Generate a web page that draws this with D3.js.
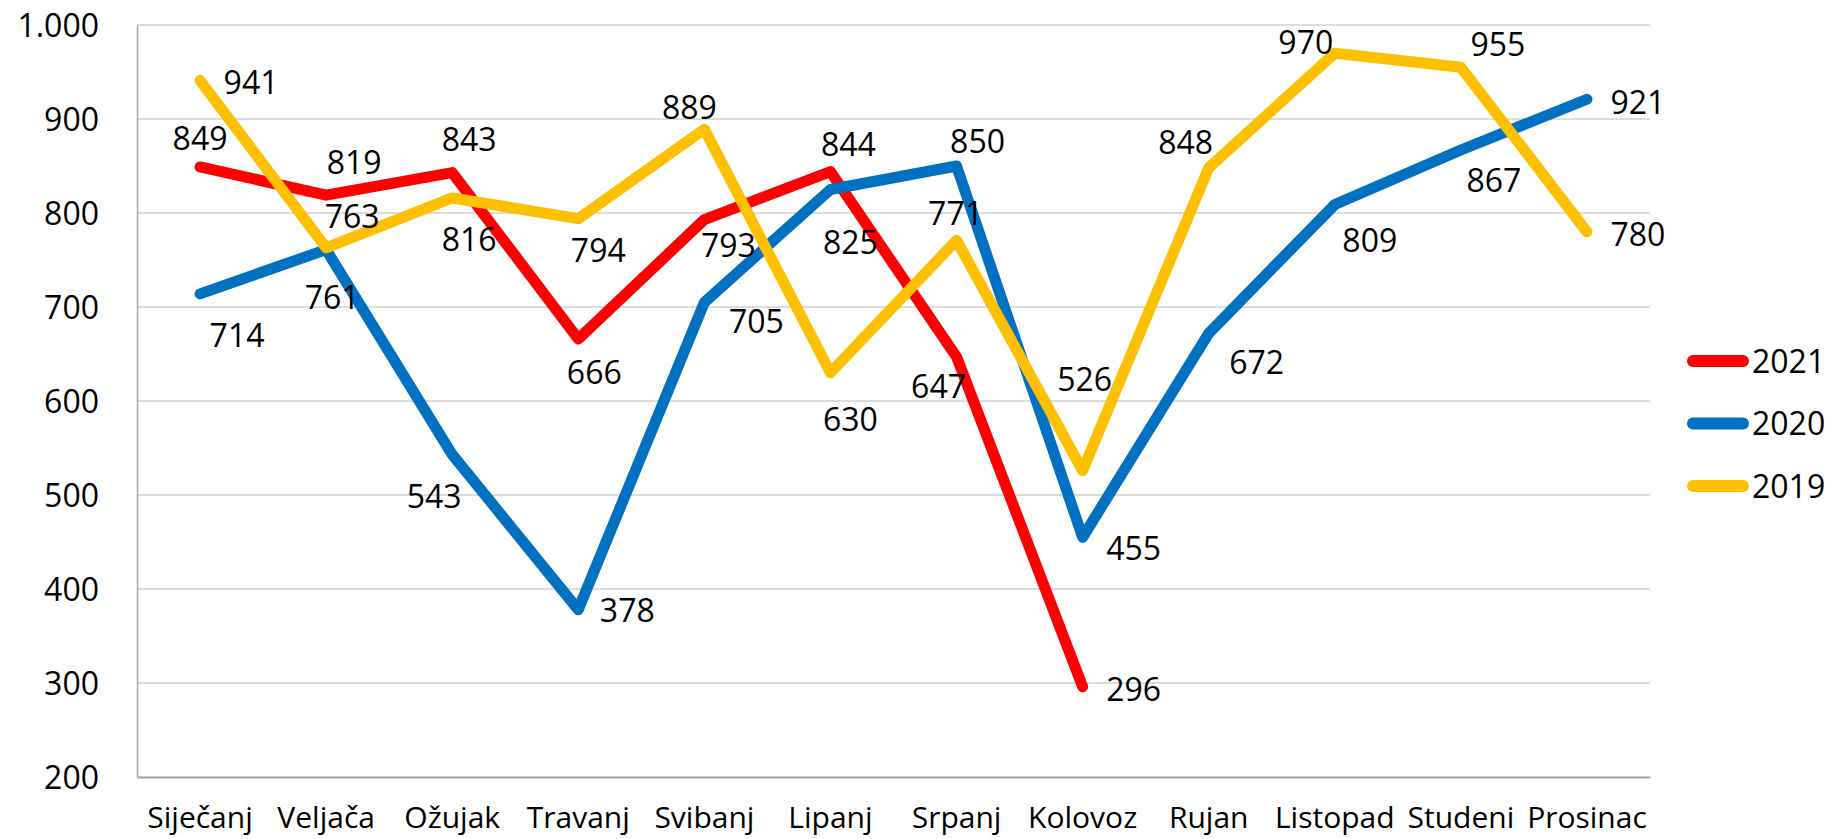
<!DOCTYPE html>
<html>
<head>
<meta charset="utf-8">
<script src="https://cdn.jsdelivr.net/npm/d3@7"></script>
<style>
  body { margin: 0; background: #fff; }
  text { font-family: "Open Sans", sans-serif; fill: #000; }
</style>
</head>
<body>
<div id="chart"></div>
<script>
var months = ["Siječanj", "Veljača", "Ožujak", "Travanj", "Svibanj", "Lipanj",
              "Srpanj", "Kolovoz", "Rujan", "Listopad", "Studeni", "Prosinac"];
var seriesNames = ["2021", "2020", "2019"];
var values2021 = [849, 819, 843, 666, 793, 844, 647, 296];
var values2020 = [714, 761, 543, 378, 705, 825, 850, 455, 672, 809, 867, 921];
var values2019 = [941, 763, 816, 794, 889, 630, 771, 526, 848, 970, 955, 780];
var yTicks = [200, 300, 400, 500, 600, 700, 800, 900, 1000];

// where each data label sits relative to its point (dx, dy)
var off2021 = [[0,-28],[28,-33],[17,-33],[16,34],[24,26],[18,-27],[-18,30],[51,3]];
var off2020 = [[37,42],[6,48],[-18,42],[49,1],[52,19],[20,53],[21,-25],[51,11],[48,29],[35,36],[33,30],[51,3]];
var off2019 = [[51,2],[26,-31],[17,42],[20,32],[-15,-22],[20,47],[-1,-27],[2,-91],[-23,-25],[-29,-11],[37,-23],[51,3]];

var colors = ["#FF0000", "#0070C0", "#FFC000"];

var width = 1831, height = 839;
var margin = { top: 25, right: 181, bottom: 62, left: 137 };

var svg = d3.select("#chart")
    .append("svg")
    .attr("width", width)
    .attr("height", height);

var x = d3.scaleBand()
    .domain(months)
    .range([margin.left, width - margin.right]);

var y = d3.scaleLinear()
    .domain([200, 1000])
    .range([height - margin.bottom, margin.top]);

var hr = d3.formatLocale({ decimal: ",", thousands: ".", grouping: [3], currency: ["", " kn"] });
var fmt = hr.format(",d");

// gridlines
svg.append("g")
    .selectAll("line")
    .data(yTicks.slice(1))
    .enter()
    .append("line")
    .attr("x1", margin.left)
    .attr("x2", width - margin.right)
    .attr("y1", d => y(d))
    .attr("y2", d => y(d))
    .attr("stroke", "#d0d0d0")
    .attr("stroke-width", 1.5);

var yAxis = svg.append("g")
    .attr("transform", `translate(${margin.left},0)`)
    .call(d3.axisLeft(y).tickValues(yTicks).tickFormat(fmt).tickSize(0).tickPadding(38));
yAxis.select(".domain").attr("stroke", "#a6a6a6").attr("stroke-width", 1.5);
yAxis.selectAll("text")
    .attr("font-size", 32)
    .attr("dy", "0.36em")
    .style("font-family", "'Open Sans', sans-serif");

var xAxis = svg.append("g")
    .attr("transform", `translate(0,${height - margin.bottom})`)
    .call(d3.axisBottom(x).tickSize(0).tickSizeOuter(0).tickPadding(30));
xAxis.select(".domain").attr("stroke", "#a0a0a0").attr("stroke-width", 2);
xAxis.selectAll("text")
    .attr("font-size", 30)
    .style("font-family", "'Open Sans', sans-serif");

var series = [
  { name: seriesNames[0], values: values2021, offsets: off2021, color: colors[0] },
  { name: seriesNames[1], values: values2020, offsets: off2020, color: colors[1] },
  { name: seriesNames[2], values: values2019, offsets: off2019, color: colors[2] }
];

var cx = (i) => x(months[i]) + x.bandwidth() / 2;

var line = d3.line()
    .x((d, i) => cx(i))
    .y(d => y(d));

svg.selectAll(".series")
    .data(series)
    .enter()
    .append("path")
    .attr("class", "series")
    .attr("d", d => line(d.values))
    .attr("fill", "none")
    .attr("stroke", d => d.color)
    .attr("stroke-width", 11)
    .attr("stroke-linejoin", "round")
    .attr("stroke-linecap", "round");

// data labels
series.forEach(function (s) {
  svg.append("g")
    .selectAll("text")
    .data(s.values)
    .enter()
    .append("text")
    .attr("x", (d, i) => cx(i) + s.offsets[i][0])
    .attr("y", (d, i) => y(d) + s.offsets[i][1])
    .attr("dy", "0.36em")
    .attr("text-anchor", "middle")
    .attr("font-size", 32)
    .text(d => d);
});

// legend
var legend = svg.append("g")
    .selectAll("g")
    .data(series)
    .enter()
    .append("g")
    .attr("transform", (d, i) => `translate(1687,${361 + i * 62.5})`);

legend.append("line")
    .attr("x1", 6)
    .attr("x2", 56)
    .attr("stroke", d => d.color)
    .attr("stroke-width", 12)
    .attr("stroke-linecap", "round");

legend.append("text")
    .attr("x", 65)
    .attr("dy", "0.36em")
    .attr("font-size", 32)
    .text(d => d.name);
</script>
</body>
</html>
